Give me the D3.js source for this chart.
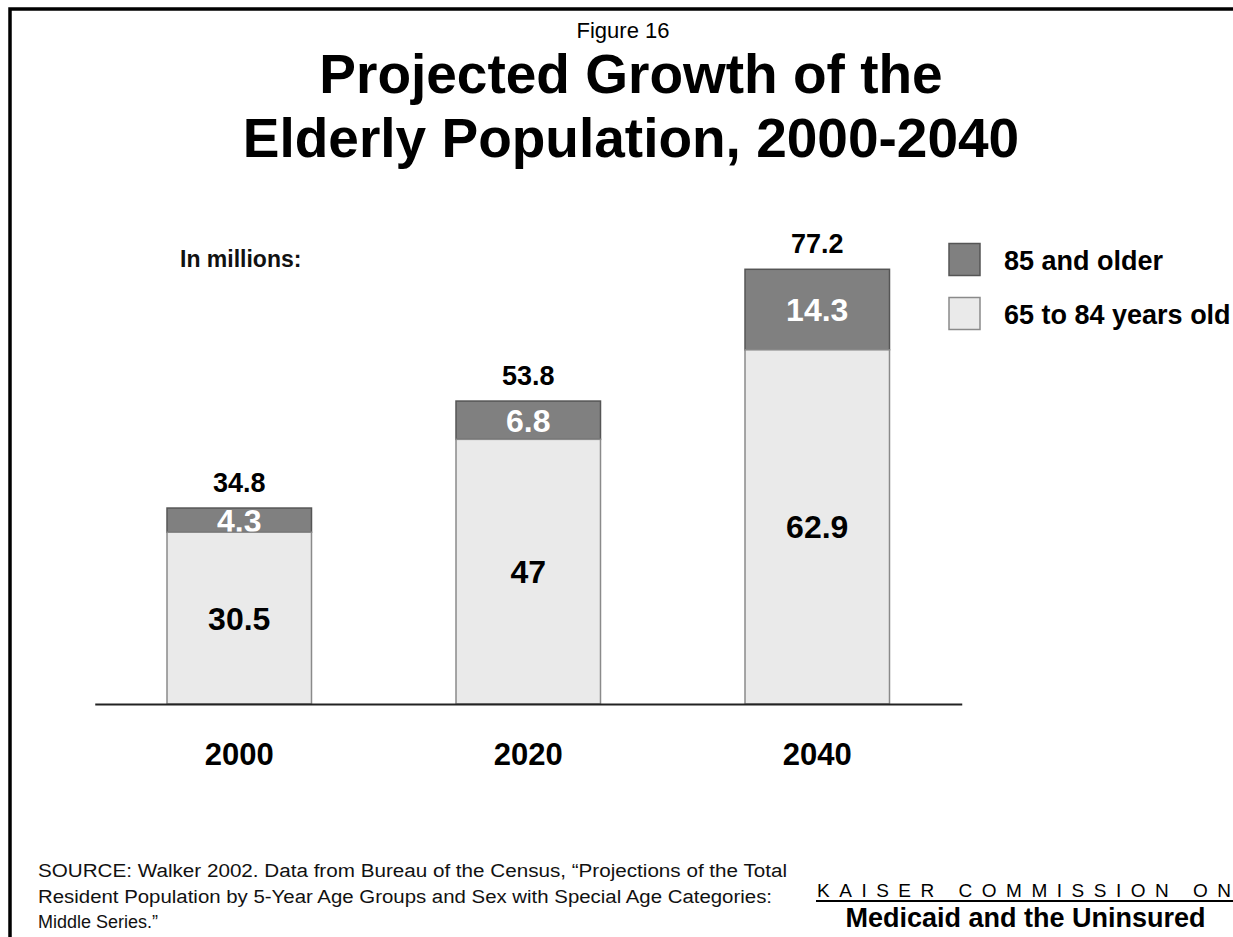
<!DOCTYPE html>
<html>
<head>
<meta charset="utf-8">
<script src="https://cdn.jsdelivr.net/npm/d3@7/dist/d3.min.js"></script>
<style>
  html, body { margin: 0; padding: 0; background: #fff; }
  svg { display: block; font-family: "Liberation Sans", Arial, sans-serif; }
</style>
</head>
<body>
<svg id="chart" width="1233" height="937"></svg>
<script>
// ---- Data ----
const years = ["2000", "2020", "2040"];
const age65to84 = [30.5, 47, 62.9];
const age85plus = [4.3, 6.8, 14.3];
const totals = [34.8, 53.8, 77.2];
const seriesKeys = ["young", "old"];
const legendLabels = ["85 and older", "65 to 84 years old"];
const sourceLines = [
  "SOURCE:  Walker 2002.  Data from Bureau of the Census, \u201CProjections of the Total",
  "Resident Population by 5-Year Age Groups and Sex with Special Age Categories:",
  "Middle Series.\u201D"
];

const rows = years.map((y, i) => ({ year: y, young: age65to84[i], old: age85plus[i], total: totals[i] }));

const svg = d3.select("#chart");
const W = 1233, H = 937;

// frame
svg.append("path")
  .attr("d", `M10,${H} V9 H${W}`)
  .attr("fill", "none").attr("stroke", "#000").attr("stroke-width", 3.5);

// titles
svg.append("text").attr("x", 623).attr("y", 38).attr("text-anchor", "middle")
  .attr("font-size", 22).attr("fill", "#000").text("Figure 16");
svg.append("text").attr("x", 631).attr("y", 93).attr("text-anchor", "middle")
  .attr("font-size", 55).attr("font-weight", "bold").attr("fill", "#000").text("Projected Growth of the");
svg.append("text").attr("x", 631).attr("y", 157).attr("text-anchor", "middle")
  .attr("font-size", 55).attr("font-weight", "bold").attr("fill", "#000").text("Elderly Population, 2000-2040");

svg.append("text").attr("x", 180).attr("y", 267)
  .attr("font-size", 23).attr("font-weight", "bold").attr("fill", "#111").text("In millions:");

// scales
const x = d3.scaleBand().domain(years).range([94.75, 961.75]).paddingInner(0.5).paddingOuter(0.25);
const y = d3.scaleLinear().domain([0, 80]).range([704, 704 - 80 * 5.631]);

const stack = d3.stack().keys(seriesKeys)(rows);
const fills = { young: "#eaeaea", old: "#808080" };
const strokes = { young: "#8a8a8a", old: "#555" };

// dark segments + labels first, then light segments over them, then light labels
const drawOrder = ["old", "young"];
drawOrder.forEach(key => {
  const layer = stack.find(s => s.key === key);
  const g = svg.append("g");
  g.selectAll("rect").data(layer).join("rect")
    .attr("x", d => x(d.data.year))
    .attr("width", x.bandwidth())
    .attr("y", d => y(d[1]))
    .attr("height", d => y(d[0]) - y(d[1]))
    .attr("fill", fills[key])
    .attr("stroke", strokes[key])
    .attr("stroke-width", 1.5);
  const fs = 32;
  g.selectAll("text").data(layer).join("text")
    .attr("x", d => x(d.data.year) + x.bandwidth() / 2)
    .attr("y", d => (y(d[0]) + y(d[1])) / 2 + fs * 0.358)
    .attr("text-anchor", "middle")
    .attr("font-size", fs).attr("font-weight", "bold")
    .attr("fill", key === "old" ? "#fff" : "#000")
    .text(d => d.data[key]);
});

// totals
svg.append("g").selectAll("text").data(rows).join("text")
  .attr("x", d => x(d.year) + x.bandwidth() / 2)
  .attr("y", d => y(d.total) - 16)
  .attr("text-anchor", "middle")
  .attr("font-size", 27).attr("font-weight", "bold").attr("fill", "#000")
  .text(d => d.total);

// axis
const axis = svg.append("g").attr("transform", "translate(0,704)")
  .call(d3.axisBottom(x).tickSizeInner(0).tickSizeOuter(0).tickPadding(39));
axis.select(".domain").attr("stroke", "#222").attr("stroke-width", 2);
axis.selectAll("text").attr("font-size", 31).attr("font-weight", "bold").attr("fill", "#000")
  .attr("font-family", "'Liberation Sans', Arial, sans-serif");

// legend
const legendColors = ["#808080", "#eaeaea"];
const legendStrokes = ["#555", "#8a8a8a"];
const lg = svg.append("g");
legendLabels.forEach((lab, i) => {
  const top = i === 0 ? 243.5 : 297.5;
  lg.append("rect").attr("x", 949).attr("y", top).attr("width", 31).attr("height", 32)
    .attr("fill", legendColors[i]).attr("stroke", legendStrokes[i]).attr("stroke-width", 1.5);
  lg.append("text").attr("x", 1004).attr("y", top + 26.5)
    .attr("font-size", 27).attr("font-weight", "bold").attr("fill", "#000").text(lab);
});

// source
const srcLen = [749, 734, null];
const srcBase = [877, 903, 928];
sourceLines.forEach((t, i) => {
  const tx = svg.append("text").attr("x", 38).attr("y", srcBase[i])
    .attr("font-size", 18).attr("fill", "#111").text(t);
  if (srcLen[i]) tx.attr("textLength", srcLen[i]).attr("lengthAdjust", "spacingAndGlyphs");
});

// logo
svg.append("text").attr("x", 817).attr("y", 897)
  .attr("font-size", 19).attr("fill", "#000")
  .attr("textLength", 414).attr("lengthAdjust", "spacing")
  .text("KAISER COMMISSION ON");
svg.append("line").attr("x1", 816).attr("x2", W).attr("y1", 901).attr("y2", 901)
  .attr("stroke", "#000").attr("stroke-width", 2);
svg.append("text").attr("x", 1025.5).attr("y", 927).attr("text-anchor", "middle")
  .attr("font-size", 27).attr("font-weight", "bold").attr("fill", "#000")
  .text("Medicaid and the Uninsured");
</script>
</body>
</html>
